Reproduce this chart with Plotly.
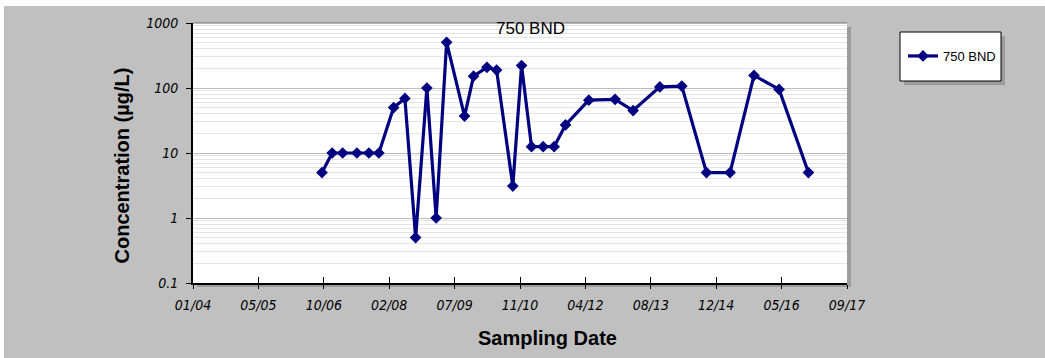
import plotly.graph_objects as go

# Sampling dates and measured concentrations (µg/L) for well 750 BND
sample_dates = [
    "2006-09-26", "2006-12-13", "2007-03-03", "2007-06-20", "2007-09-20",
    "2007-12-05", "2008-03-27", "2008-06-21", "2008-09-11", "2008-12-06",
    "2009-02-15", "2009-05-06", "2009-09-20", "2009-11-28", "2010-03-10",
    "2010-05-23", "2010-09-24", "2010-11-30", "2011-02-14", "2011-05-14",
    "2011-08-06", "2011-11-01", "2012-04-27", "2012-11-14", "2013-04-01",
    "2013-10-22", "2014-04-08", "2014-10-14", "2015-04-12", "2015-10-12",
    "2016-04-21", "2016-12-01",
]
concentration = [
    5, 10, 10, 10, 10,
    10, 50, 69, 0.5, 100,
    1, 505, 37, 152, 208,
    189, 3.1, 222, 12.5, 12.5,
    12.5, 27, 65, 67, 45,
    104, 107, 5, 5, 156,
    95, 5,
]
series_name = "750 BND"

# Axis ticks
x_tick_dates = [
    "2004-01-14", "2005-05-28", "2006-10-10", "2008-02-22", "2009-07-06",
    "2010-11-18", "2012-04-01", "2013-08-14", "2014-12-27", "2016-05-10",
    "2017-09-22",
]
x_tick_labels = ["01/04", "05/05", "10/06", "02/08", "07/09", "11/10",
                 "04/12", "08/13", "12/14", "05/16", "09/17"]
y_tick_values = [0.1, 1, 10, 100, 1000]
y_tick_labels = ["0.1", "1", "10", "100", "1000"]

# Figure geometry (pixels)
W, H = 1045, 358
L, R, T, B = 193, 847, 23, 283


def px_x(px):
    return (px - L) / (R - L)


def px_y(py):
    return (B - py) / (B - T)


NAVY = "#000080"
BG = "#c0c0c0"
SHADOW = "#9c9c9c"
tick_font = dict(family="Liberation Sans Narrow, DejaVu Sans Condensed, Arial Narrow, sans-serif",
                 size=14, color="black", style="italic")
label_font = dict(family="Arial, Liberation Sans, sans-serif", size=20, color="black", weight="bold")

fig = go.Figure()
fig.add_trace(go.Scatter(
    x=sample_dates, y=concentration, name=series_name,
    mode="lines+markers",
    line=dict(color=NAVY, width=3.2),
    marker=dict(symbol="diamond", size=9, color=NAVY, line=dict(width=0)),
))
# companion trace carrying the inner half of the crossing x ticks
fig.add_trace(go.Scatter(
    x=sample_dates, y=concentration, xaxis="x2", mode="lines",
    line=dict(width=0), opacity=0, showlegend=False, hoverinfo="skip",
))

shapes = [
    # white edge strips around the gray chart area
    dict(type="rect", xref="paper", yref="paper", x0=px_x(0), x1=px_x(W), y0=px_y(6), y1=px_y(0),
         fillcolor="white", line=dict(width=0), layer="below"),
    dict(type="rect", xref="paper", yref="paper", x0=px_x(0), x1=px_x(4), y0=px_y(H), y1=px_y(0),
         fillcolor="white", line=dict(width=0), layer="below"),
    # plot area drop shadow and face
    dict(type="rect", xref="paper", yref="paper", x0=px_x(L + 4), x1=px_x(R + 4), y0=px_y(B + 4), y1=px_y(T + 4),
         fillcolor=SHADOW, line=dict(width=0), layer="below"),
    dict(type="rect", xref="paper", yref="paper", x0=0, x1=1, y0=0, y1=1,
         fillcolor="white", line=dict(width=0), layer="below"),
    # legend drop shadow and box
    dict(type="rect", xref="paper", yref="paper", x0=px_x(904), x1=px_x(1005), y0=px_y(85), y1=px_y(36),
         fillcolor=SHADOW, line=dict(width=0), layer="below"),
    dict(type="rect", xref="paper", yref="paper", x0=px_x(900), x1=px_x(1001), y0=px_y(81), y1=px_y(32),
         fillcolor="white", line=dict(color="black", width=1), layer="below"),
    # top edge of the plot area
    dict(type="line", xref="paper", yref="paper", x0=0, x1=1, y0=1, y1=1,
         line=dict(color="#707070", width=1), layer="above"),
]

annotations = [
    dict(text=series_name, xref="paper", yref="paper", x=px_x(530.5), y=px_y(28),
         showarrow=False, xanchor="center", yanchor="middle",
         font=dict(family="Arial, Liberation Sans, sans-serif", size=17, color="black")),
    dict(text="Concentration (µg/L)", xref="paper", yref="paper", x=px_x(121), y=px_y(165.5),
         showarrow=False, xanchor="center", yanchor="middle", textangle=-90, font=label_font),
    dict(text="Sampling Date", xref="paper", yref="paper", x=px_x(547.5), y=px_y(338),
         showarrow=False, xanchor="center", yanchor="middle", font=label_font),
]

fig.update_layout(
    width=W, height=H,
    margin=dict(l=L, r=W - R, t=T, b=H - B, pad=0),
    paper_bgcolor=BG, plot_bgcolor="white",
    shapes=shapes, annotations=annotations,
    showlegend=True,
    legend=dict(x=px_x(903), y=px_y(56), xanchor="left", yanchor="middle",
                bgcolor="rgba(0,0,0,0)", borderwidth=0,
                font=dict(family="Arial, Liberation Sans, sans-serif", size=13, color="black")),
    xaxis=dict(
        type="date", range=[x_tick_dates[0], x_tick_dates[-1]],
        tickmode="array", tickvals=x_tick_dates, ticktext=x_tick_labels,
        ticks="outside", ticklen=4, tickwidth=1, tickcolor="black",
        showline=True, linecolor="black", linewidth=2,
        showgrid=False, zeroline=False, tickfont=tick_font, ticklabelstandoff=4,
    ),
    xaxis2=dict(
        type="date", overlaying="x", matches="x", side="bottom",
        tickmode="array", tickvals=x_tick_dates,
        ticks="inside", ticklen=6, tickwidth=1, tickcolor="black",
        showticklabels=False, showline=False, showgrid=False, zeroline=False,
    ),
    yaxis=dict(
        type="log", range=[-1, 3],
        tickmode="array", tickvals=y_tick_values, ticktext=y_tick_labels,
        ticks="outside", ticklen=5, tickwidth=1, tickcolor="black",
        showline=True, linecolor="black", linewidth=2,
        showgrid=True, gridcolor="#bcbcbc", gridwidth=1,
        minor=dict(dtick="D1", showgrid=True, gridcolor="#e4e4e4", gridwidth=1, ticks=""),
        zeroline=False, tickfont=tick_font, ticklabelstandoff=5,
    ),
)

fig.write_html("out.html")
